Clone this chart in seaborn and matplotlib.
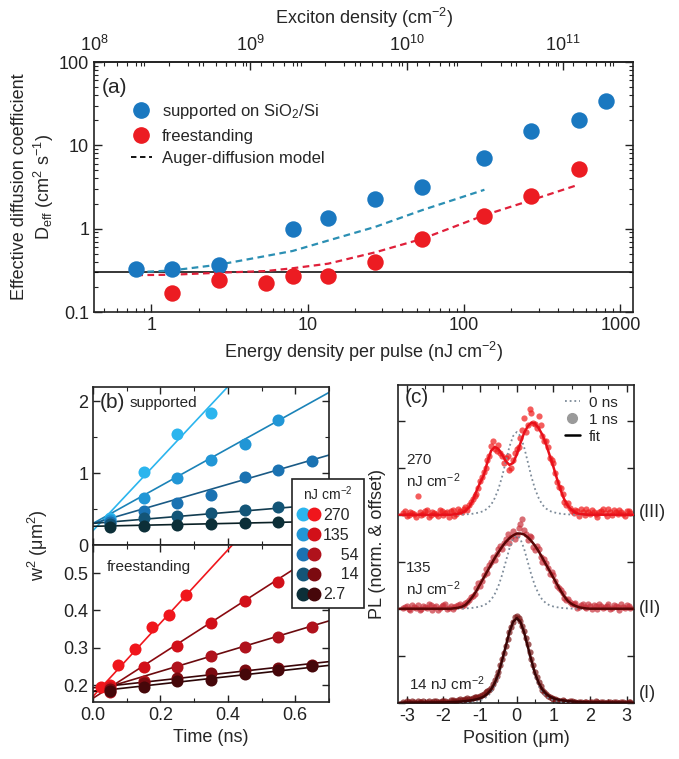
import numpy as np
import matplotlib
matplotlib.use('Agg')
import matplotlib.pyplot as plt
import seaborn as sns
from matplotlib.ticker import FuncFormatter, MultipleLocator, NullFormatter
from matplotlib.legend_handler import HandlerTuple
from matplotlib.lines import Line2D

# ---------------- panel (a): D_eff vs energy density ----------------
sup_E = [0.8, 1.35, 2.7, 8, 13.5, 27, 54, 135, 270, 540, 810]
sup_D = [0.33, 0.33, 0.37, 1.0, 1.35, 2.3, 3.2, 7.0, 15, 20, 34]
free_E = [1.35, 2.7, 5.4, 8, 13.5, 27, 54, 135, 270, 540]
free_D = [0.17, 0.24, 0.22, 0.27, 0.27, 0.40, 0.75, 1.4, 2.5, 5.2]

model_sup_E = [0.8, 1.35, 2.7, 5.4, 8, 13.5, 27, 54, 135]
model_sup_D = [0.30, 0.315, 0.37, 0.47, 0.54, 0.72, 1.05, 1.67, 2.93]
model_free_E = [0.8, 1.35, 2.7, 5.4, 8, 13.5, 27, 54, 135, 270, 540]
model_free_D = [0.277, 0.28, 0.296, 0.31, 0.335, 0.38, 0.52, 0.755, 1.45, 2.2, 3.37]
D_floor = 0.3
EXC_PER_NJ = 2.33e8   # excitons cm^-2 per nJ cm^-2
exciton_ticks = [1e8, 1e9, 1e10, 1e11]

# ---------------- panel (b): w^2 vs time ----------------
fluences = ['270', '135', '54', '14', '2.7']
sup_t = [[0.05, 0.15, 0.25, 0.35],
         [0.05, 0.15, 0.25, 0.35, 0.45, 0.55],
         [0.05, 0.15, 0.25, 0.35, 0.45, 0.55, 0.65],
         [0.05, 0.15, 0.25, 0.35, 0.45, 0.55, 0.65],
         [0.05, 0.15, 0.25, 0.35, 0.45, 0.55, 0.65]]
sup_w2 = [[0.38, 1.01, 1.54, 1.83],
          [0.35, 0.66, 0.93, 1.18, 1.41, 1.74],
          [0.32, 0.47, 0.58, 0.69, 0.95, 1.04, 1.17],
          [0.29, 0.37, 0.40, 0.45, 0.49, 0.53, 0.55],
          [0.25, 0.26, 0.28, 0.29, 0.31, 0.32, 0.33]]
sup_fit_start = [0.20, 0.30, 0.30, 0.30, 0.26]   # w^2 at t = 0
sup_fit_end = [3.70, 2.12, 1.25, 0.57, 0.33]     # w^2 at t = 0.7 ns

free_t = [[0.025, 0.05, 0.075, 0.125, 0.175, 0.225, 0.275],
          [0.05, 0.15, 0.25, 0.35, 0.45, 0.55, 0.65],
          [0.05, 0.15, 0.25, 0.35, 0.45, 0.55, 0.65],
          [0.05, 0.15, 0.25, 0.35, 0.45, 0.55, 0.65],
          [0.05, 0.15, 0.25, 0.35, 0.45, 0.55, 0.65]]
free_w2 = [[0.195, 0.20, 0.253, 0.298, 0.355, 0.388, 0.442],
           [0.195, 0.249, 0.305, 0.367, 0.425, 0.475, 0.53],
           [0.182, 0.21, 0.249, 0.277, 0.302, 0.33, 0.355],
           [0.19, 0.205, 0.22, 0.232, 0.24, 0.246, 0.255],
           [0.185, 0.195, 0.21, 0.215, 0.23, 0.24, 0.25]]
free_fit_start = [0.17, 0.165, 0.183, 0.193, 0.183]
free_fit_end = [0.856, 0.571, 0.372, 0.263, 0.253]

sup_colors = ['#2bb5ee', '#2196d6', '#1a72b2', '#135577', '#0c2f38']
free_colors = ['#f0161c', '#d21019', '#b0121c', '#7c0a10', '#46070a']
sup_line_colors = ['#2bb5ee', '#1b83b8', '#1a5a85', '#123c50', '#0a2025']
free_line_colors = ['#f0161c', '#8a0a10', '#6a0a0e', '#3a0508', '#2a0506']

# ---------------- panel (c): PL profiles ----------------
x_sc = np.round(np.linspace(-3.1, 3.1, 63), 2)
pl_III = [0.02, -0.01, 0.03, 0.01, 0.20, 0.00, 0.04, -0.02, 0.03, 0.01, 0.05,
          0.00, 0.03, 0.04, -0.01, 0.06, 0.03, 0.08, 0.10, 0.17, 0.22, 0.36,
          0.45, 0.58, 0.73, 0.70, 0.74, 0.62, 0.60, 0.48, 0.58, 0.70, 0.82,
          1.03, 0.95, 1.08, 0.96, 1.05, 0.84, 0.78, 0.60, 0.55, 0.35, 0.28,
          0.14, 0.12, 0.04, 0.05, -0.01, 0.03, 0.06, 0.01, 0.03, -0.02, 0.04,
          0.02, 0.06, 0.00, 0.03, 0.05, 0.01, 0.04, 0.02]
pl_II = [0.01, 0.03, -0.01, 0.02, 0.04, 0.00, 0.02, 0.05, -0.01, 0.03, 0.01,
         0.04, 0.00, 0.03, 0.02, 0.04, 0.03, 0.06, 0.09, 0.14, 0.22, 0.24,
         0.36, 0.38, 0.50, 0.52, 0.63, 0.64, 0.74, 0.70, 0.83, 0.78, 0.90,
         0.84, 0.73, 0.76, 0.62, 0.63, 0.50, 0.49, 0.37, 0.36, 0.24, 0.20,
         0.11, 0.10, 0.05, 0.06, 0.02, 0.05, 0.01, 0.03, 0.04, 0.00, 0.03,
         0.02, 0.05, 0.01, 0.03, -0.01, 0.02, 0.04, 0.01]
pl_I = [0.01, 0.02, 0.00, 0.01, 0.02, 0.01, 0.00, 0.02, 0.01, 0.02, 0.01,
        0.02, 0.01, 0.03, 0.02, 0.03, 0.03, 0.04, 0.04, 0.05, 0.06, 0.07,
        0.09, 0.12, 0.16, 0.24, 0.33, 0.46, 0.60, 0.75, 0.86, 0.92, 0.87,
        0.76, 0.62, 0.47, 0.33, 0.22, 0.14, 0.09, 0.06, 0.04, 0.03, 0.02,
        0.02, 0.01, 0.02, 0.01, 0.01, 0.00, 0.01, 0.01, 0.00, 0.01, 0.01,
        0.00, 0.01, 0.00, 0.01, 0.00, 0.01, 0.00, 0.01]
# second, interleaved set of samples (half a step shifted)
x_sc2 = np.round(np.linspace(-3.05, 3.05, 62), 2)
pl_III_b = [0.04, 0.00, 0.02, -0.02, 0.03, 0.01, 0.05, 0.00, 0.02, -0.01,
            0.04, 0.02, -0.02, 0.05, 0.01, 0.04, 0.06, 0.05, 0.13, 0.20,
            0.28, 0.40, 0.50, 0.62, 0.78, 0.68, 0.66, 0.55, 0.62, 0.50,
            0.66, 0.72, 0.90, 0.88, 1.12, 0.98, 0.92, 0.95, 0.78, 0.72,
            0.58, 0.44, 0.30, 0.22, 0.10, 0.07, 0.02, 0.04, 0.06, 0.00,
            0.03, 0.05, 0.01, 0.03, 0.06, -0.01, 0.03, 0.05, 0.01, 0.03,
            -0.01, 0.04]
pl_II_b = [0.02, 0.00, 0.04, 0.01, -0.01, 0.03, 0.01, 0.04, 0.02, -0.01,
           0.03, 0.05, 0.01, 0.00, 0.03, 0.05, 0.04, 0.07, 0.12, 0.16,
           0.27, 0.30, 0.42, 0.46, 0.55, 0.58, 0.67, 0.70, 0.79, 0.76,
           0.74, 0.86, 0.95, 0.80, 0.77, 0.66, 0.67, 0.55, 0.53, 0.43,
           0.39, 0.30, 0.22, 0.17, 0.09, 0.07, 0.05, 0.01, 0.04, 0.02,
           0.05, 0.00, 0.03, 0.05, 0.01, 0.03, 0.00, 0.04, 0.02, 0.05,
           0.01, 0.03]
pl_I_b = [0.00, 0.01, 0.02, 0.00, 0.01, 0.02, 0.01, 0.00, 0.02, 0.01,
          0.02, 0.02, 0.01, 0.03, 0.02, 0.04, 0.03, 0.05, 0.04, 0.06,
          0.06, 0.08, 0.11, 0.13, 0.20, 0.28, 0.40, 0.53, 0.68, 0.81,
          0.91, 0.90, 0.82, 0.69, 0.54, 0.40, 0.27, 0.18, 0.11, 0.07,
          0.05, 0.04, 0.02, 0.03, 0.01, 0.02, 0.01, 0.00, 0.01, 0.01,
          0.00, 0.01, 0.02, 0.00, 0.01, 0.00, 0.01, 0.01, 0.00, 0.01,
          0.00, 0.01]

x_fit = np.round(np.linspace(-2.0, 2.0, 41), 2)
fit_III = [0.0, 0.0, 0.0, 0.005, 0.01, 0.02, 0.04, 0.08, 0.15, 0.25, 0.34,
           0.42, 0.56, 0.68, 0.72, 0.70, 0.64, 0.57, 0.53, 0.55, 0.64, 0.76,
           0.87, 0.94, 0.98, 0.97, 0.92, 0.85, 0.75, 0.63, 0.51, 0.38, 0.26,
           0.16, 0.09, 0.05, 0.02, 0.01, 0.005, 0.0, 0.0]
fit_II = [0.0, 0.0, 0.0, 0.005, 0.01, 0.02, 0.04, 0.08, 0.13, 0.19, 0.26,
          0.33, 0.40, 0.47, 0.54, 0.60, 0.66, 0.71, 0.75, 0.78, 0.80, 0.80,
          0.79, 0.76, 0.72, 0.67, 0.61, 0.54, 0.47, 0.40, 0.33, 0.26, 0.19,
          0.13, 0.08, 0.05, 0.03, 0.015, 0.008, 0.003, 0.0]
fit_I = [0.003, 0.004, 0.006, 0.008, 0.01, 0.013, 0.017, 0.022, 0.028, 0.036,
         0.047, 0.065, 0.095, 0.14, 0.21, 0.31, 0.45, 0.60, 0.75, 0.86, 0.90,
         0.86, 0.75, 0.60, 0.45, 0.31, 0.21, 0.14, 0.095, 0.065, 0.047, 0.036,
         0.028, 0.022, 0.017, 0.013, 0.01, 0.008, 0.006, 0.004, 0.003]
spot_0ns = [0.0, 0.0, 0.0, 0.0, 0.0, 0.002, 0.004, 0.007, 0.012, 0.02, 0.03,
            0.045, 0.075, 0.12, 0.20, 0.31, 0.46, 0.64, 0.82, 0.95, 1.0,
            0.95, 0.82, 0.64, 0.46, 0.31, 0.20, 0.12, 0.075, 0.045, 0.03,
            0.02, 0.012, 0.007, 0.004, 0.002, 0.0, 0.0, 0.0, 0.0, 0.0]
pl_offsets = [2.0, 1.0, 0.0]          # (III), (II), (I)
spot_peaks = [0.88, 0.78, 0.90]
pl_marker_colors = ['#f01818', '#c8303a', '#7a1414']
pl_fit_colors = ['#e8101a', '#5a0606', '#3a0404']

# ---------------- style ----------------
sns.set_style('ticks')
plt.rcParams['font.family'] = ['Liberation Sans', 'DejaVu Sans']
plt.rcParams['mathtext.fontset'] = 'custom'
plt.rcParams['mathtext.rm'] = 'Liberation Sans'
plt.rcParams['mathtext.it'] = 'Liberation Sans:italic'
plt.rcParams['axes.linewidth'] = 1.2
plt.rcParams['axes.edgecolor'] = '#222222'
FS = 13

fig = plt.figure(figsize=(6.79, 7.59), dpi=100)


def style_ticks(ax):
    ax.tick_params(which='both', direction='in', top=True, right=True,
                   labelsize=FS, colors='#222222')
    ax.tick_params(which='major', length=5, width=1)
    ax.tick_params(which='minor', length=3, width=0.8)


# ---- (a) ----
ax_a = fig.add_axes([94 / 679, 1 - 312 / 759, 539 / 679, 250 / 759])
ax_a.set_xscale('log')
ax_a.set_yscale('log')
ax_a.axhline(D_floor, color='black', lw=1.1, zorder=1)
sns.lineplot(x=model_sup_E, y=model_sup_D, ax=ax_a, color='#2b8fb3',
             linestyle=(0, (3, 2)), lw=1.6, sort=False, estimator=None)
sns.lineplot(x=model_free_E, y=model_free_D, ax=ax_a, color='#e0203a',
             linestyle=(0, (3, 2)), lw=1.6, sort=False, estimator=None)
sns.scatterplot(x=sup_E, y=sup_D, ax=ax_a, color='#1a78c0', s=140,
                linewidth=0, zorder=3, legend=False)
sns.scatterplot(x=free_E, y=free_D, ax=ax_a, color='#ec1c22', s=140,
                linewidth=0, zorder=3, legend=False)
ax_a.set_xlim(0.4288, 1205)
ax_a.set_ylim(0.1, 100)
fmt = FuncFormatter(lambda v, p: f'{v:g}')
ax_a.xaxis.set_major_formatter(fmt)
ax_a.yaxis.set_major_formatter(fmt)
ax_a.xaxis.set_minor_formatter(NullFormatter())
ax_a.yaxis.set_minor_formatter(NullFormatter())
style_ticks(ax_a)
ax_a.tick_params(top=False)
ax_a.tick_params(which='major', length=6)
ax_a.set_xlabel('Energy density per pulse (nJ cm$^{-2}$)', fontsize=FS)
ax_a.set_ylabel('Effective diffusion coefficient\nD$_{\\rm eff}$ (cm$^2$ s$^{-1}$)',
                fontsize=FS, labelpad=2)
sec = ax_a.secondary_xaxis('top', functions=(lambda e: e * EXC_PER_NJ,
                                             lambda n: n / EXC_PER_NJ))
sec.set_xticks(exciton_ticks)
sec.tick_params(which='both', direction='in', labelsize=FS, colors='#222222',
                pad=5)
sec.tick_params(which='major', length=6, width=1)
sec.tick_params(which='minor', length=3, width=0.8)
sec.set_xlabel('Exciton density (cm$^{-2}$)', fontsize=FS, labelpad=8)
ax_a.text(0.015, 0.9, '(a)', transform=ax_a.transAxes, fontsize=15,
          va='center', ha='left')
leg_a = [Line2D([], [], marker='o', ls='none', color='#1a78c0', ms=11),
         Line2D([], [], marker='o', ls='none', color='#ec1c22', ms=11),
         Line2D([], [], ls=(0, (3, 2)), color='black', lw=1.3)]
ax_a.legend(leg_a, ['supported on SiO$_2$/Si', 'freestanding',
                    'Auger-diffusion model'],
            loc='upper left', bbox_to_anchor=(0.04, 0.9), frameon=False,
            fontsize=12, handlelength=1.3, labelspacing=0.45, handletextpad=0.6)

# ---- (b) ----
ax_b1 = fig.add_axes([93 / 679, 1 - 545 / 759, 236 / 679, 158.3 / 759])
ax_b2 = fig.add_axes([93 / 679, 1 - 702 / 759, 236 / 679, 157 / 759])
for i in range(len(fluences)):
    sns.lineplot(x=[0, 0.7], y=[sup_fit_start[i], sup_fit_end[i]], ax=ax_b1,
                 color=sup_line_colors[i], lw=1.2, estimator=None)
    sns.scatterplot(x=sup_t[i], y=sup_w2[i], ax=ax_b1, color=sup_colors[i],
                    s=75, linewidth=0, zorder=3, legend=False)
    sns.lineplot(x=[0, 0.7], y=[free_fit_start[i], free_fit_end[i]], ax=ax_b2,
                 color=free_line_colors[i], lw=1.2, estimator=None)
    sns.scatterplot(x=free_t[i], y=free_w2[i], ax=ax_b2, color=free_colors[i],
                    s=75, linewidth=0, zorder=3, legend=False)
for ax in (ax_b1, ax_b2):
    ax.set_xlim(0, 0.7)
    ax.xaxis.set_major_locator(MultipleLocator(0.2))
    ax.xaxis.set_minor_locator(MultipleLocator(0.1))
    style_ticks(ax)
    ax.set_xlabel('')
    ax.set_ylabel('')
ax_b1.set_ylim(0, 2.2)
ax_b1.yaxis.set_major_locator(MultipleLocator(1))
ax_b1.yaxis.set_minor_locator(MultipleLocator(0.5))
ax_b1.tick_params(labelbottom=False)
ax_b2.set_ylim(0.155, 0.575)
ax_b2.yaxis.set_major_locator(MultipleLocator(0.1))
ax_b2.yaxis.set_major_formatter(FuncFormatter(lambda v, p: f'{v:.1f}'))
ax_b2.xaxis.set_major_formatter(FuncFormatter(lambda v, p: f'{v:.1f}'))
ax_b2.set_xlabel('Time (ns)', fontsize=FS)
ax_b1.text(0.03, 0.9, '(b)', transform=ax_b1.transAxes, fontsize=15,
           va='center', ha='left')
ax_b1.text(0.155, 0.9, 'supported', transform=ax_b1.transAxes, fontsize=11,
           va='center', ha='left')
ax_b2.text(0.06, 0.86, 'freestanding', transform=ax_b2.transAxes,
           fontsize=11, va='center', ha='left')
fig.text(38 / 679, 1 - 545 / 759, 'w$^2$ (μm$^2$)', rotation=90,
         fontsize=FS, ha='center', va='center')

handles_b = [(Line2D([], [], marker='o', ls='none', color=sup_colors[i], ms=9),
              Line2D([], [], marker='o', ls='none', color=free_colors[i], ms=9))
             for i in range(len(fluences))]
labels_b = ['270', '135', '\u2007\u200754', '\u2007\u200714', '2.7']
leg_b = fig.legend(handles_b, labels_b, title='nJ cm$^{-2}$', loc='upper left',
                   bbox_to_anchor=(292 / 679, 1 - 479 / 759),
                   handler_map={tuple: HandlerTuple(ndivide=None, pad=0.0)},
                   frameon=True, fancybox=False, edgecolor='#222222',
                   framealpha=1, fontsize=11.5, title_fontsize=10,
                   handlelength=1.35, handletextpad=0.25, labelspacing=0.3,
                   borderpad=0.35, borderaxespad=0)
leg_b.get_frame().set_linewidth(1.2)

# ---- (c) ----
ax_c = fig.add_axes([398 / 679, 1 - 702.7 / 759, 236 / 679, 317.7 / 759])
x_fit_full = np.concatenate([[-3.2], x_fit, [3.2]])
for pl, pl_b, fit, off, pk, mc, fc in zip([pl_III, pl_II, pl_I],
                                           [pl_III_b, pl_II_b, pl_I_b],
                                           [fit_III, fit_II, fit_I],
                                           pl_offsets, spot_peaks,
                                           pl_marker_colors, pl_fit_colors):
    sns.scatterplot(x=x_sc, y=np.array(pl) + off, ax=ax_c, color=mc, s=20,
                    alpha=0.7, linewidth=0, zorder=2, legend=False)
    sns.scatterplot(x=x_sc2, y=np.array(pl_b) + off, ax=ax_c, color=mc, s=20,
                    alpha=0.7, linewidth=0, zorder=2, legend=False)
    sns.lineplot(x=x_fit, y=np.array(spot_0ns) * pk + off, ax=ax_c,
                 color='#7d8b99', lw=1.3, linestyle=(0, (1, 1.6)),
                 estimator=None, sort=False, zorder=3)
    sns.lineplot(x=x_fit_full, y=np.concatenate([[0], fit, [0]]) + off,
                 ax=ax_c, color=fc, lw=1.8, estimator=None, sort=False,
                 zorder=4)
ax_c.set_xlim(-3.24, 3.2)
ax_c.set_ylim(0, 3.38)
ax_c.xaxis.set_major_locator(MultipleLocator(1))
ax_c.xaxis.set_minor_locator(MultipleLocator(0.5))
ax_c.yaxis.set_major_locator(MultipleLocator(0.5))
ax_c.yaxis.set_major_formatter(NullFormatter())
style_ticks(ax_c)
ax_c.xaxis.set_major_formatter(FuncFormatter(lambda v, p: f'{v:.0f}'))
ax_c.set_xlabel('Position (μm)', fontsize=FS)
ax_c.set_ylabel('PL (norm. & offset)', fontsize=FS, labelpad=5)
ax_c.text(0.03, 0.99, '(c)', transform=ax_c.transAxes, fontsize=15,
          va='top', ha='left')
ax_c.text(-3.02, 2.46, '270\nnJ cm$^{-2}$', fontsize=11, va='center',
          ha='left', linespacing=1.3)
ax_c.text(-3.02, 1.31, '135\nnJ cm$^{-2}$', fontsize=11, va='center',
          ha='left', linespacing=1.3)
ax_c.text(-2.95, 0.2, '14 nJ cm$^{-2}$', fontsize=11, va='center', ha='left')
for lab, off in zip(['(III)', '(II)', '(I)'], [2.02, 1.0, 0.1]):
    ax_c.text(1.02, off, lab, transform=ax_c.get_yaxis_transform(),
              fontsize=FS, va='center', ha='left')
leg_c = [Line2D([], [], color='#7d8b99', lw=1.3, ls=(0, (1, 1.6))),
         Line2D([], [], marker='o', ls='none', color='#9a9a9a', ms=7),
         Line2D([], [], color='black', lw=1.8)]
ax_c.legend(leg_c, ['0 ns', '1 ns', 'fit'], loc='upper right',
            bbox_to_anchor=(0.99, 1.01), frameon=False, fontsize=11,
            handlelength=1.0, handletextpad=0.6, labelspacing=0.2)

fig.savefig('out.png', dpi=100)
